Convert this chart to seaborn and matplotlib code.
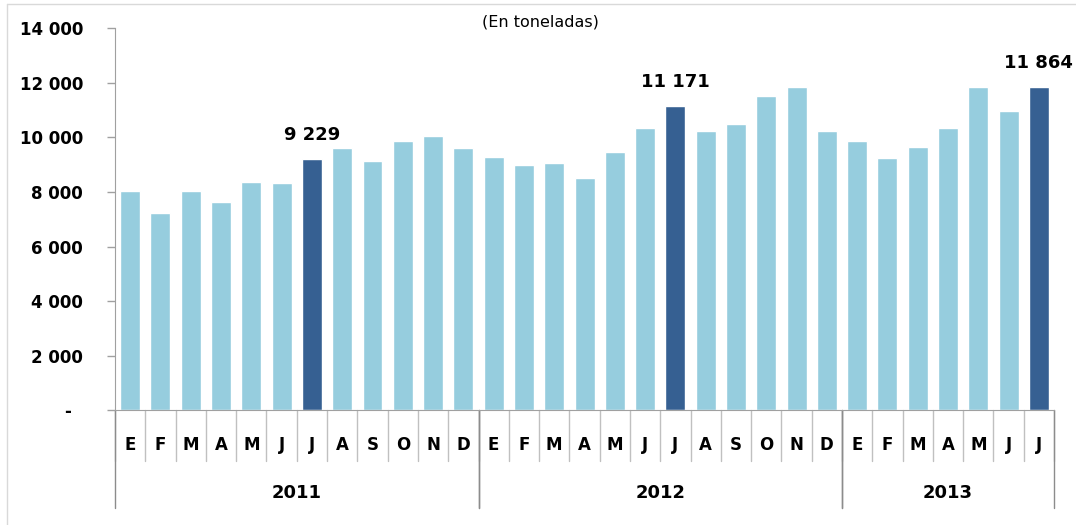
import pandas as pd
import numpy as np
import matplotlib.pyplot as plt
import matplotlib.transforms as mtransforms
import seaborn as sns

# datos (toneladas)
meses = ['E', 'F', 'M', 'A', 'M', 'J', 'J', 'A', 'S', 'O', 'N', 'D',
         'E', 'F', 'M', 'A', 'M', 'J', 'J', 'A', 'S', 'O', 'N', 'D',
         'E', 'F', 'M', 'A', 'M', 'J', 'J']
anios = ['2011', '2012', '2013']
meses_por_anio = [12, 12, 7]
valores = [8040, 7220, 8040, 7630, 8370, 8320, 9229, 9600, 9130, 9870, 10070, 9600,
           9270, 8990, 9050, 8520, 9470, 10350, 11171, 10230, 10490, 11510, 11840, 10230,
           9870, 9260, 9660, 10350, 11840, 10970, 11864]
destacados = [6, 18, 30]

claro = '#96cdde'
oscuro = '#366092'

df = pd.DataFrame({'pos': range(len(valores)), 'valor': valores})
df['destacado'] = df['pos'].isin(destacados)

sns.set_style('white')
plt.rcParams['font.family'] = ['DejaVu Sans']
plt.rcParams['text.color'] = 'black'
plt.rcParams['ytick.labelcolor'] = 'black'

fig = plt.figure(figsize=(10.76, 5.25), dpi=100)
ax = fig.add_axes([0.1069, 0.2181, 0.8727, 0.728])

sns.barplot(data=df, x='pos', y='valor', hue='destacado', palette={False: claro, True: oscuro},
            dodge=False, width=0.66, legend=False, ax=ax, saturation=1)

ax.set_xlim(-0.5, len(valores) - 0.5)
ax.set_ylim(0, 14000)
ax.set_yticks(range(0, 14001, 2000))
ax.set_yticklabels(['-  ' if v == 0 else f'{v:,}'.replace(',', ' ') for v in range(0, 14001, 2000)],
                   fontweight='bold', fontsize=12, color='black')
ax.tick_params(axis='y', left=True, length=6, width=1, color='#a0a0a0', pad=17)
ax.set_xticks([])
ax.set_xlabel('')
ax.set_ylabel('')

for s in ['top', 'right']:
    ax.spines[s].set_visible(False)
ax.spines['left'].set_color('#a0a0a0')
ax.spines['bottom'].set_color('#a0a0a0')

# etiquetas de los meses destacados
for i in destacados:
    ax.annotate(f'{valores[i]:,}'.replace(',', ' '), (i, valores[i]), xytext=(0, 17),
                textcoords='offset points', ha='center', va='center',
                fontsize=13, fontweight='bold', color='black')

# eje x en dos niveles
trans = mtransforms.blended_transform_factory(ax.transData, ax.transAxes)
for i, m in enumerate(meses):
    ax.text(i, -0.09, m, transform=trans, ha='center', va='center',
            fontsize=12, fontweight='bold', color='black')
for b in range(len(meses) + 1):
    ax.plot([b - 0.5, b - 0.5], [0, -0.131], transform=trans, color='#c0c0c0',
            lw=1, clip_on=False)

inicio = 0
for anio, n in zip(anios, meses_por_anio):
    ax.text(inicio + n / 2 - 0.5, -0.216, anio, transform=trans, ha='center', va='center',
            fontsize=13, fontweight='bold', color='black')
    for b in (inicio, inicio + n):
        ax.plot([b - 0.5, b - 0.5], [0, -0.255], transform=trans, color='#8c8c8c',
                lw=1, clip_on=False)
    inicio += n

fig.text(0.502, 0.958, '(En toneladas)', ha='center', va='center', fontsize=11.5, color='black')

# marco exterior
fig.add_artist(plt.Line2D([7 / 1076, 1], [1 - 4 / 525, 1 - 4 / 525], color='#d9d9d9', lw=1))
fig.add_artist(plt.Line2D([7 / 1076, 7 / 1076], [0, 1 - 4 / 525], color='#d9d9d9', lw=1))

fig.savefig('out.png', dpi=100)
